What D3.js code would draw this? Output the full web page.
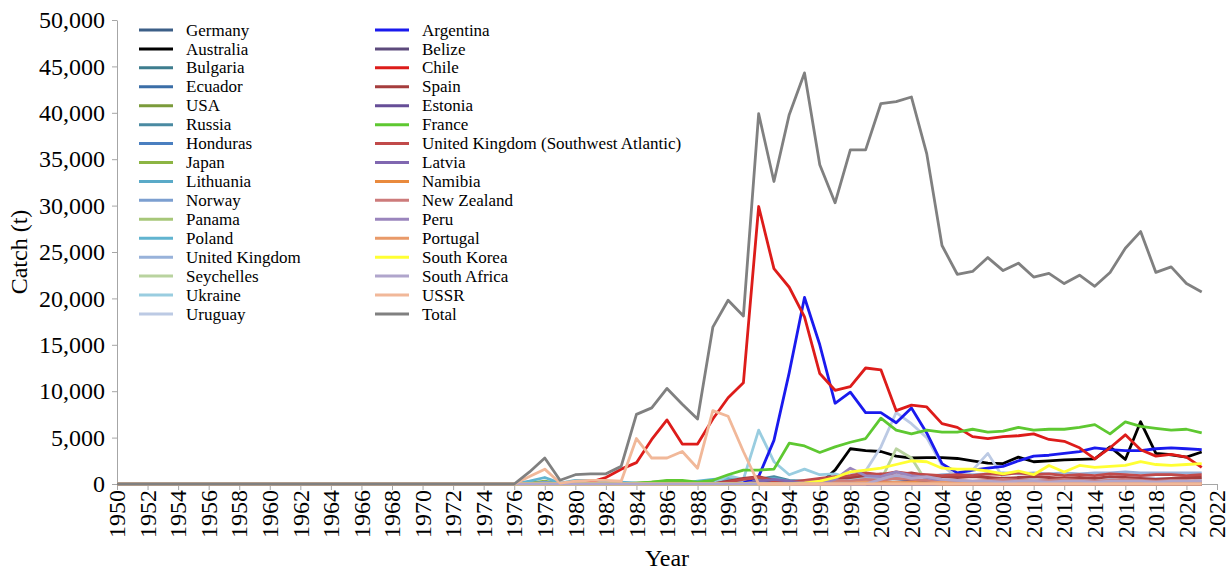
<!DOCTYPE html>
<html>
<head>
<meta charset="utf-8">
<script src="https://cdn.jsdelivr.net/npm/d3@7"></script>
<style>
  body { margin: 0; background: #fff; }
  text { font-family: 'Liberation Serif', 'Times New Roman', serif; fill: #000; }
</style>
</head>
<body>
<div id="chart"></div>
<script>
// catch per country, 1976..2021 (before 1976 everything is 0)
var firstYear = 1976;
var leadYears = d3.range(1950, 1976);

var germany    = [0,0,100,0,200,100,0,0,0,0, 0,0,0,0,0,0,0,0,0,0, 0,0,0,0,0,0,0,0,0,0, 0,0,0,0,0,0,0,0,0,0, 0,0,0,0,0,0];
var australia  = [0,0,0,0,0,0,0,0,0,0, 0,0,0,0,0,0,0,0,0,0, 0,1500,3800,3600,3500,3000,2800,2850,2850,2750, 2500,2250,2200,2900,2400,2500,2600,2650,2700,4000, 2650,6700,3300,3150,2900,3450];
var bulgaria   = [0,100,200,0,100,0,0,0,0,0, 0,0,0,0,0,0,0,0,0,0, 0,0,0,0,0,0,0,0,0,0, 0,0,0,0,0,0,0,0,0,0, 0,0,0,0,0,0];
var ecuador    = [0,0,0,0,0,0,0,0,0,0, 0,0,0,100,150,100,100,0,0,0, 0,0,0,0,0,0,0,0,0,0, 0,0,0,0,0,0,0,0,0,0, 0,0,0,0,0,0];
var usa        = [0,0,100,0,0,0,0,0,0,0, 0,0,0,0,0,0,0,0,0,0, 0,0,0,0,0,0,0,0,0,0, 0,0,0,0,0,0,0,0,0,0, 0,0,0,0,0,0];
var russia     = [0,0,0,0,0,0,0,0,0,0, 0,0,0,0,0,0,500,800,400,300, 200,100,0,0,0,0,0,0,0,0, 0,0,0,0,0,0,0,0,0,0, 0,0,0,0,0,0];
var honduras   = [0,0,0,0,0,0,0,0,0,0, 0,0,100,200,300,200,100,0,0,0, 0,0,0,0,0,0,0,0,0,0, 0,0,0,0,0,0,0,0,0,0, 0,0,0,0,0,0];
var japan      = [0,100,300,0,100,100,100,100,100,200, 300,200,100,100,200,100,0,0,0,0, 0,0,0,0,0,0,0,0,0,0, 0,0,0,0,0,0,0,0,0,0, 0,0,0,0,0,0];
var lithuania  = [0,0,0,0,0,0,0,0,0,0, 0,0,0,0,0,200,400,600,300,200, 0,0,0,0,0,0,0,0,0,0, 0,0,0,0,0,0,0,0,0,0, 0,0,0,0,0,0];
var norway     = [0,0,200,0,100,0,0,0,0,0, 0,0,0,0,0,0,0,0,0,0, 0,0,0,0,0,0,0,0,0,0, 0,0,0,0,0,0,0,0,0,0, 0,0,0,0,0,0];
var panama     = [0,0,0,0,0,0,0,0,0,0, 0,0,0,100,200,300,200,100,0,0, 0,0,0,0,0,0,0,0,0,0, 0,0,0,0,0,0,0,0,0,0, 0,0,0,0,0,0];
var poland     = [0,300,700,100,400,400,300,200,100,0, 0,100,300,500,600,400,300,100,0,0, 0,0,0,0,0,0,0,0,0,0, 0,0,0,0,0,0,0,0,0,0, 0,0,0,0,0,0];
var unitedKingdom = [0,0,0,0,0,0,0,0,0,0, 0,0,0,0,300,400,200,100,100,200, 300,400,500,600,700,800,900,800,1000,1100, 1000,1100,1200,1100,1200,1100,1200,1100,1200,1200, 1300,1200,1200,1200,1200,1200];
var seychelles = [0,0,0,0,0,0,0,0,0,0, 0,0,0,0,0,0,0,0,0,0, 0,0,0,0,400,3800,2800,200,0,0, 0,0,0,0,0,0,0,0,0,0, 0,0,0,0,0,0];
var ukraine    = [0,0,0,0,0,0,0,0,0,0, 0,0,0,0,900,500,5800,2400,1000,1600, 1000,1100,600,400,300,200,300,200,100,100, 0,0,0,0,0,0,0,0,0,0, 0,0,0,0,0,0];
var uruguay    = [0,0,0,0,0,0,0,0,0,0, 0,0,0,0,0,0,0,0,0,0, 0,0,1000,1400,4000,7700,6500,5000,2000,700, 1500,3300,700,500,500,400,300,400,500,600, 1000,700,600,600,100,600];
var argentina  = [0,0,0,0,0,0,0,0,0,0, 0,0,0,0,0,100,800,4700,12000,20100, 15000,8700,9900,7700,7700,6600,8200,5500,2200,1200, 1500,1700,1900,2500,3000,3100,3300,3500,3900,3700, 3600,3600,3800,3900,3800,3700];
var belize     = [0,0,0,0,0,0,0,0,0,0, 0,0,0,0,0,0,0,0,0,0, 0,0,0,0,100,200,300,200,100,0, 0,0,0,0,0,0,0,0,0,0, 0,0,0,0,0,0];
var chile      = [0,0,0,0,100,200,700,1600,2300,4800, 6900,4300,4300,7000,9300,10900,29900,23200,21200,18000, 11900,10100,10500,12500,12300,7900,8500,8300,6500,6100, 5100,4900,5100,5200,5400,4800,4600,3900,2700,3900, 5300,3700,3000,3200,2900,1800];
var spain      = [0,0,0,0,0,0,0,0,0,0, 0,0,0,0,300,600,800,400,200,300, 500,600,700,900,1100,1000,1200,900,800,700, 800,700,600,700,800,700,600,700,600,800, 700,600,500,600,700,700];
var estonia    = [0,0,0,0,0,0,0,0,0,0, 0,0,0,0,0,0,300,400,200,0, 0,0,0,0,0,0,0,0,0,0, 0,0,0,0,0,0,0,0,0,0, 0,0,0,0,0,0];
var france     = [0,0,0,0,0,0,0,0,100,200, 400,400,200,400,1000,1500,1500,1600,4400,4100, 3400,4000,4500,4900,7100,5800,5400,5800,5600,5600, 5900,5600,5700,6100,5800,5900,5900,6100,6400,5400, 6700,6200,6000,5800,5900,5500];
var ukSouthwest = [0,0,0,0,0,0,0,0,0,0, 0,0,0,0,200,500,700,300,200,400, 600,800,900,1200,1000,1300,1100,1000,900,1000, 900,1100,1000,1200,1000,1100,900,1000,900,1100, 1000,900,1000,1000,900,1000];
var latvia     = [0,0,0,0,0,0,0,0,0,0, 0,0,0,0,0,0,300,500,300,100, 0,0,0,0,0,0,0,0,0,0, 0,0,0,0,0,0,0,0,0,0, 0,0,0,0,0,0];
var namibia    = [0,0,0,0,0,0,0,0,0,0, 0,0,0,0,0,0,0,0,0,0, 0,0,100,200,200,100,200,100,0,0, 0,0,0,0,0,0,0,0,0,0, 0,0,0,0,0,0];
var newZealand = [0,0,0,0,0,0,0,0,0,0, 0,0,0,0,0,0,0,0,0,200, 300,400,300,500,400,600,500,400,300,400, 300,400,500,400,300,400,500,400,300,400, 500,400,300,400,400,300];
var peru       = [0,0,0,0,0,0,0,0,0,0, 0,0,0,0,0,0,0,0,0,0, 0,500,1700,900,800,1300,900,700,400,200, 100,100,100,100,100,100,100,100,100,100, 100,100,100,100,100,100];
var portugal   = [0,0,0,0,0,0,0,0,0,0, 0,0,0,0,0,0,0,0,0,0, 0,100,100,200,100,200,100,100,200,100, 100,200,100,100,100,200,100,100,100,100, 100,100,100,100,100,100];
var southKorea = [0,0,0,0,0,0,0,0,0,0, 0,0,0,0,0,0,0,0,0,100, 300,700,1300,1500,1700,2100,2500,2400,1700,1600, 1600,1400,1100,1400,1000,2000,1300,2000,1800,1900, 2000,2400,2100,2000,2100,2200];
var southAfrica = [0,0,0,0,0,0,0,0,0,0, 0,0,0,0,0,0,0,0,0,0, 0,0,0,0,500,1000,600,800,500,400, 300,300,200,300,300,200,300,300,200,300, 300,300,200,300,300,300];
var ussr       = [0,800,1600,100,300,400,400,300,4900,2800, 2800,3500,1700,7900,7300,3500,0,0,0,0, 0,0,0,0,0,0,0,0,0,0, 0,0,0,0,0,0,0,0,0,0, 0,0,0,0,0,0];
var total      = [0,1300,2800,400,1000,1100,1100,1900,7500,8200, 10300,8600,7000,16900,19800,18100,39900,32600,39800,44300, 34400,30300,36000,36000,41000,41200,41700,35600,25700,22600, 22900,24400,23000,23800,22300,22700,21600,22500,21300,22800, 25400,27200,22800,23400,21600,20700];

var leftNames  = ["Germany","Australia","Bulgaria","Ecuador","USA","Russia","Honduras","Japan",
                  "Lithuania","Norway","Panama","Poland","United Kingdom","Seychelles","Ukraine","Uruguay"];
var leftValues = [germany,australia,bulgaria,ecuador,usa,russia,honduras,japan,
                  lithuania,norway,panama,poland,unitedKingdom,seychelles,ukraine,uruguay];
var leftColors = ["#3c5f87","#000000","#3e7d8e","#3b6ea7","#7b9b3b","#4a8aa2","#4a7fc0","#8cb543",
                  "#5aaac8","#7c9fd0","#a7c779","#61b4d0","#98b2da","#b9d39f","#99cde0","#bccae4"];

var rightNames  = ["Argentina","Belize","Chile","Spain","Estonia","France","United Kingdom (Southwest Atlantic)",
                   "Latvia","Namibia","New Zealand","Peru","Portugal","South Korea","South Africa","USSR","Total"];
var rightValues = [argentina,belize,chile,spain,estonia,france,ukSouthwest,
                   latvia,namibia,newZealand,peru,portugal,southKorea,southAfrica,ussr,total];
var rightColors = ["#1a1aee","#5d4a7c","#dd1c1a","#a53d3d","#664e97","#5ec831","#c14a4a",
                   "#8067b0","#e98a3d","#cd7b7b","#9a85bd","#e99a69","#ffff33","#b0a5cc","#f1b899","#808080"];

var yTicks = d3.range(0, 50001, 5000);
var xTicks = d3.range(1950, 2023, 2);

var svg = d3.select("#chart")
  .append("svg")
  .attr("width", 1229)
  .attr("height", 573);

var x = d3.scaleLinear().domain([1950, 2022]).range([117, 1217]),
    y = d3.scaleLinear().domain([0, 50000]).range([484, 20]);

// build full series 1950..2021
var series = [];
leftNames.forEach(function (n, i) { series.push({name: n, color: leftColors[i], vals: leftValues[i]}); });
rightNames.forEach(function (n, i) { series.push({name: n, color: rightColors[i], vals: rightValues[i]}); });
series.forEach(function (s) {
  s.points = leadYears.map(function (yr) { return [yr, 0]; })
    .concat(s.vals.map(function (v, i) { return [firstYear + i, v]; }));
});

// axes
var yAxis = svg.append("g")
  .attr("transform", "translate(117,0)")
  .call(d3.axisLeft(y).tickValues(yTicks).tickFormat(d3.format(",")).tickSize(5).tickSizeOuter(0).tickPadding(7));
yAxis.selectAll("text").style("font-size", "24px");

var xAxis = svg.append("g")
  .attr("transform", "translate(0,484)")
  .call(d3.axisBottom(x).tickValues(xTicks).tickFormat(d3.format("d")).tickSize(6).tickSizeOuter(0));
xAxis.selectAll("text")
  .style("font-size", "24px")
  .attr("text-anchor", "end")
  .attr("x", -6)
  .attr("y", 0)
  .attr("dy", "0.32em")
  .attr("transform", "rotate(-90)");

svg.selectAll(".domain, .tick line").attr("stroke", "#a6a6a6");

// lines
var line = d3.line()
  .x(function (d) { return x(d[0]); })
  .y(function (d) { return y(d[1]); });

svg.append("g").selectAll("path")
  .data(series)
  .enter()
  .append("path")
  .attr("d", function (d) { return line(d.points); })
  .attr("fill", "none")
  .attr("stroke", function (d) { return d.color; })
  .attr("stroke-width", 2.8)
  .attr("stroke-linejoin", "round");

// axis titles
svg.append("text")
  .attr("transform", "translate(27,252) rotate(-90)")
  .attr("text-anchor", "middle")
  .style("font-size", "24px")
  .text("Catch (t)");

svg.append("text")
  .attr("x", 667)
  .attr("y", 566)
  .attr("text-anchor", "middle")
  .style("font-size", "24px")
  .text("Year");

// legend
var rowH = 18.93;
function legendColumn(names, colors, lx) {
  var g = svg.append("g");
  names.forEach(function (n, i) {
    var yy = 30 + i * rowH;
    g.append("line")
      .attr("x1", lx).attr("x2", lx + 34)
      .attr("y1", yy).attr("y2", yy)
      .attr("stroke", colors[i])
      .attr("stroke-width", 3);
    g.append("text")
      .attr("x", lx + 47)
      .attr("y", yy)
      .attr("dy", "0.33em")
      .style("font-size", "17px")
      .text(n);
  });
}
legendColumn(leftNames, leftColors, 139);
legendColumn(rightNames, rightColors, 375);
</script>
</body>
</html>
